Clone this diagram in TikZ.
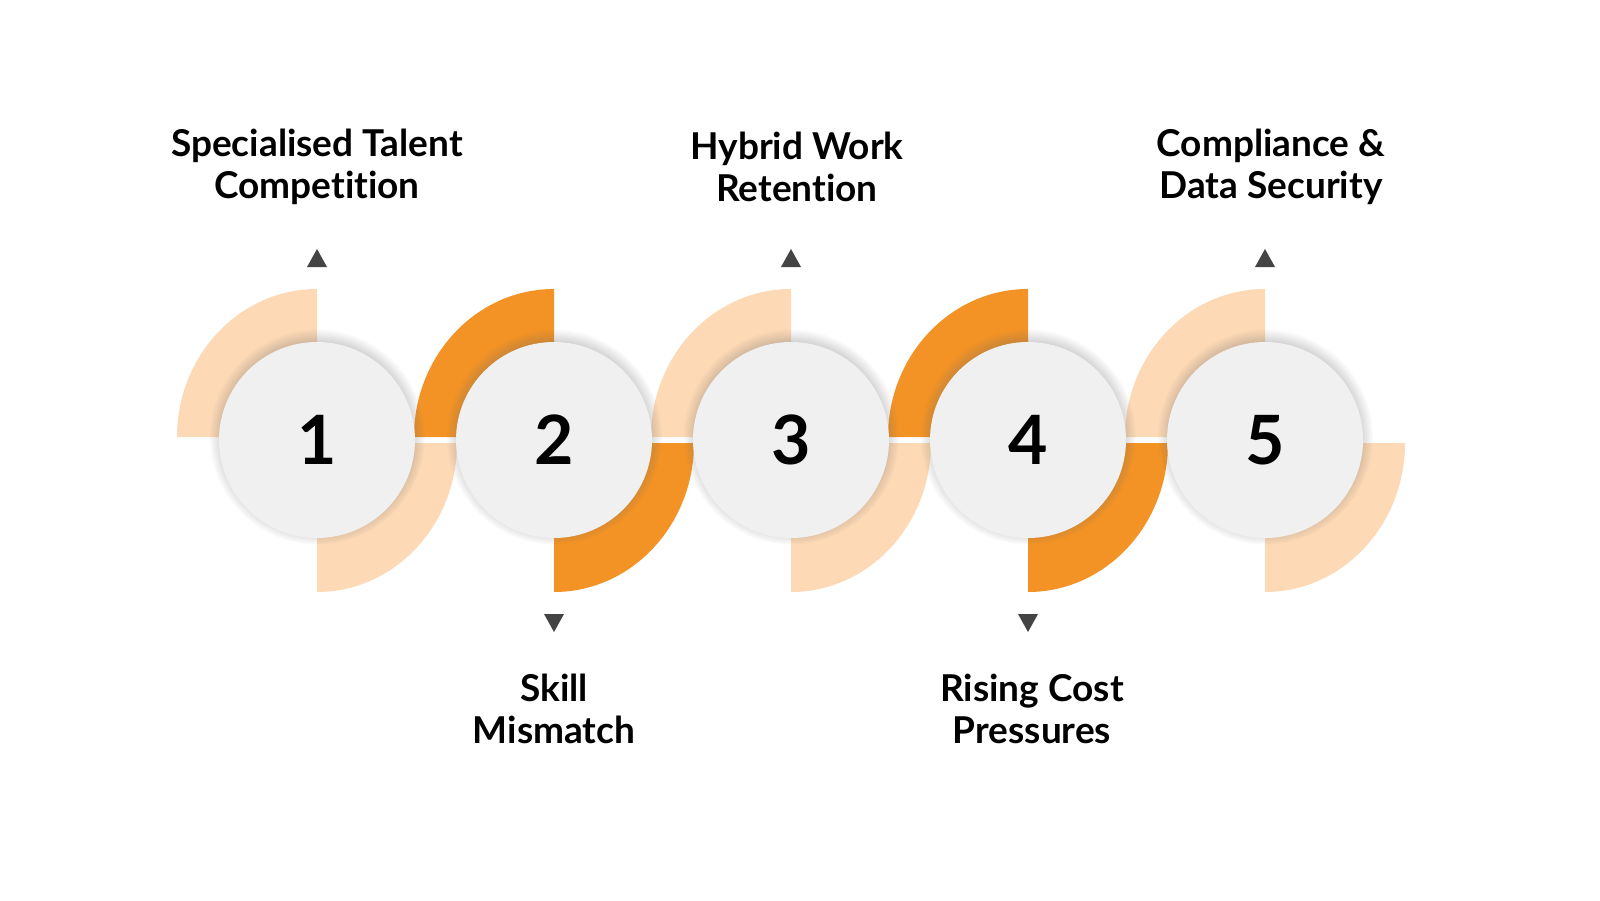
\documentclass[tikz,border=0pt]{standalone}
\usepackage{fontspec}
\setmainfont[Ligatures={NoCommon,NoRare}]{Lato}
\usetikzlibrary{shadows,calc}
\definecolor{lightp}{HTML}{FDD9B5}
\definecolor{orng}{HTML}{F39325}
\definecolor{disc}{HTML}{F0F0F0}
\definecolor{tri}{HTML}{444444}
\tikzset{
  disk/.style={circle,fill=disc,minimum size=98pt,inner sep=0pt,font=\fontsize{34}{34}\selectfont\bfseries,
    circular drop shadow={shadow xshift=0pt,shadow yshift=1.5pt,opacity=.35,fill=black!60}},
  lbl/.style={align=center,font=\fontsize{18.5}{21}\selectfont\bfseries,text=black},
}
\begin{document}
\begin{tikzpicture}[x=0.5pt,y=-0.5pt]
\useasboundingbox (0,0) rectangle (1600,900);
\fill[white] (0,0) rectangle (1600,900);
\foreach \i/\x/\c in {1/317/lightp,2/554/orng,3/791/lightp,4/1028/orng,5/1265/lightp}{
  \fill[\c] (\x,437) -- (\x-140,437) arc[start angle=180,end angle=90,x radius=140,y radius=-148] -- cycle;
  \fill[\c] (\x,443) -- (\x+140,443) arc[start angle=0,end angle=-90,x radius=140,y radius=-149] -- cycle;
}
\foreach \i/\x in {1/317,2/554,3/791,4/1028,5/1265}{
  \node[disk] (c\i) at (\x,440) {\i};
}
\foreach \i/\x in {1/317,3/791,5/1265}{
  \coordinate (t\i) at (\x,258);
  \fill[tri] ($(t\i)+(-10,9)$) -- ($(t\i)+(10,9)$) -- ($(t\i)+(0,-9)$) -- cycle;
}
\foreach \i/\x in {2/554,4/1028}{
  \coordinate (t\i) at (\x,623);
  \fill[tri] ($(t\i)+(-10,-9)$) -- ($(t\i)+(10,-9)$) -- ($(t\i)+(0,9)$) -- cycle;
}
\node[lbl] (l1) at (317,167) {Specialised Talent\\Competition};
\node[lbl] (l3) at (797,167) {Hybrid Work\\Retention};
\node[lbl] (l5) at (1271,167) {Compliance \&\\Data Security};
\node[lbl] (l2) at (554,709) {Skill\\Mismatch};
\node[lbl] (l4) at (1032,709) {Rising Cost\\Pressures};
\end{tikzpicture}
\end{document}
